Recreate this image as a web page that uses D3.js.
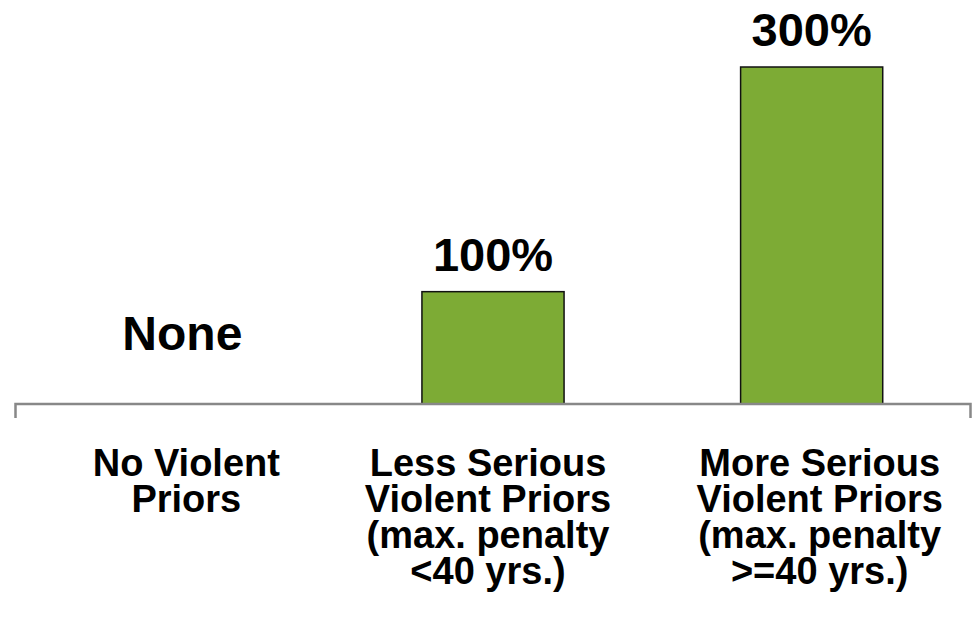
<!DOCTYPE html>
<html>
<head>
<meta charset="utf-8">
<script src="https://cdn.jsdelivr.net/npm/d3@7"></script>
<style>
  body { margin: 0; background: #fff; }
  text { font-family: "Liberation Sans", Arial, sans-serif; font-weight: bold; fill: #000; }
</style>
</head>
<body>
<div id="chart"></div>
<script>
// data
var categories = [
  ["No Violent", "Priors"],
  ["Less Serious", "Violent Priors", "(max. penalty", "<40 yrs.)"],
  ["More Serious", "Violent Priors", "(max. penalty", ">=40 yrs.)"]
];
var values = [0, 100, 300];
var valueLabels = ["None", "100%", "300%"];

var width = 973, height = 619;
var baseY = 404;

var svg = d3.select("#chart")
  .append("svg")
  .attr("width", width)
  .attr("height", height);

// x scale: three equal bands between the axis ends
var x = d3.scaleBand()
  .domain(d3.range(categories.length))
  .range([15, 971])
  .paddingInner(0.554)
  .paddingOuter(0.277);

var y = d3.scaleLinear()
  .domain([0, 300])
  .range([baseY, 67]);

// bars (zero value draws nothing)
var barData = values.map(function (v, i) { return { v: v, i: i }; })
  .filter(function (d) { return d.v > 0; });

svg.selectAll(".bar")
  .data(barData)
  .enter().append("rect")
  .attr("class", "bar")
  .attr("x", function (d) { return x(d.i); })
  .attr("y", function (d) { return y(d.v); })
  .attr("width", x.bandwidth())
  .attr("height", function (d) { return y(0) - y(d.v); })
  .attr("fill", "#7dab35")
  .attr("stroke", "#111")
  .attr("stroke-width", 1.5);

// axis line with end ticks
svg.append("path")
  .attr("d", "M15.5,418V" + baseY + "H970.5V418")
  .attr("fill", "none")
  .attr("stroke", "#888")
  .attr("stroke-width", 2.5);

// value labels
svg.selectAll(".val")
  .data(values)
  .enter().append("text")
  .attr("class", "val")
  .attr("x", function (d, i) { return x(i) + x.bandwidth() / 2 + (d === 0 ? 8 : 0); })
  .attr("y", function (d) { return d === 0 ? y(0) - 54 : y(d) - 21; })
  .attr("text-anchor", "middle")
  .style("font-size", function (d) { return d === 0 ? "48px" : "47px"; })
  .text(function (d, i) { return valueLabels[i]; });

// category labels
var labelShift = [12, -5, 8];
var cat = svg.selectAll(".cat")
  .data(categories)
  .enter().append("text")
  .attr("class", "cat")
  .attr("text-anchor", "middle")
  .style("font-size", "38px");

cat.selectAll("tspan")
  .data(function (d, i) { return d.map(function (s) { return { s: s, i: i }; }); })
  .enter().append("tspan")
  .attr("x", function (d) { return x(d.i) + x.bandwidth() / 2 + labelShift[d.i]; })
  .attr("y", function (d, j) { return 476 + j * 36; })
  .text(function (d) { return d.s; });
</script>
</body>
</html>
